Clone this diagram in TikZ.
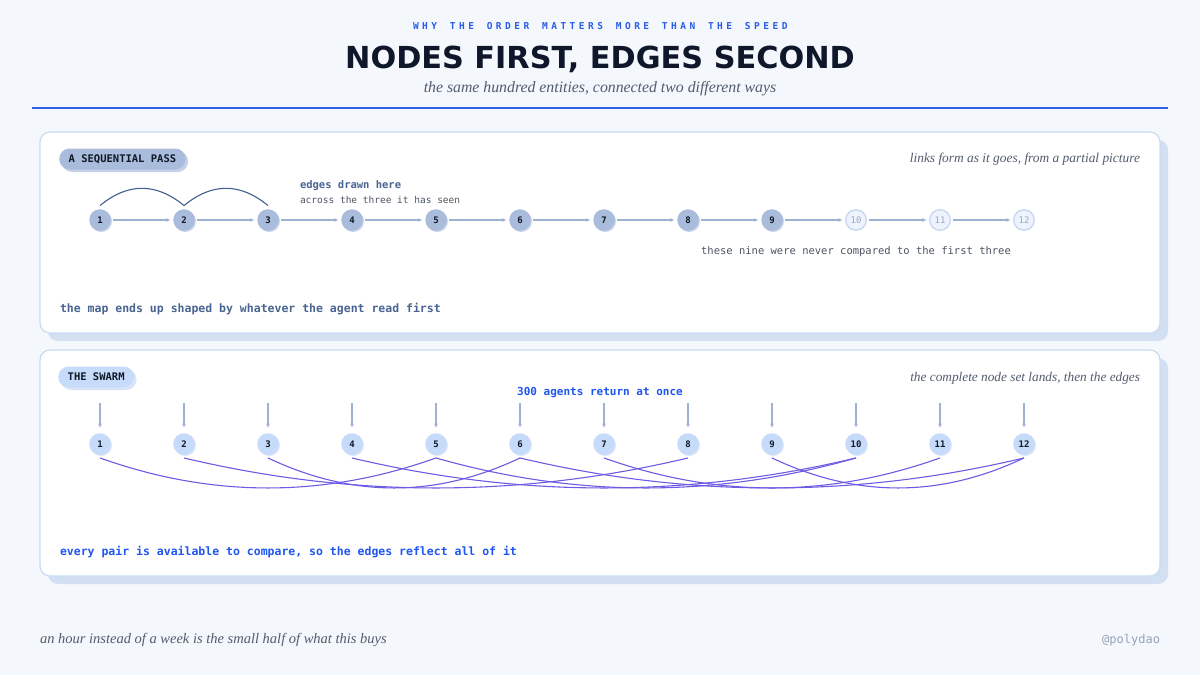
\documentclass[tikz,border=0pt]{standalone}
\usepackage{fontspec}
\setmainfont{Liberation Serif}
\newfontfamily\mono{DejaVu Sans Mono}
\newfontfamily\titlef{DejaVu Sans}
\usetikzlibrary{arrows.meta}
\definecolor{bg}{HTML}{F4F7FC}
\definecolor{navy}{HTML}{0F172A}
\definecolor{kblue}{HTML}{2B5CE6}
\definecolor{subgray}{HTML}{525C6E}
\definecolor{divblue}{HTML}{2F63E3}
\definecolor{panelb}{HTML}{CADBF3}
\definecolor{shadowc}{HTML}{D3E0F2}
\definecolor{pillone}{HTML}{A9BCDB}
\definecolor{pillonesh}{HTML}{C4D1E8}
\definecolor{pilltwo}{HTML}{C7DBFA}
\definecolor{pilltwosh}{HTML}{D9E5F7}
\definecolor{seqfill}{HTML}{A9BCDB}
\definecolor{seqarrowc}{HTML}{9FB2D2}
\definecolor{arcc}{HTML}{44608F}
\definecolor{slate}{HTML}{4A6491}
\definecolor{fadefill}{HTML}{EEF4FD}
\definecolor{fadedraw}{HTML}{C6D7F1}
\definecolor{fadetext}{HTML}{9AAAC2}
\definecolor{swfill}{HTML}{C6DAFA}
\definecolor{swedgec}{HTML}{6C5CE3}
\definecolor{bluetext}{HTML}{1F55F0}
\definecolor{handle}{HTML}{94A3B8}
\definecolor{darktext}{HTML}{111827}
\definecolor{graytext}{HTML}{4B5563}
\def\spaced#1{\spacedaux#1\relax}
\def\spacedaux#1{\ifx#1\relax\else#1\kern3.5pt\expandafter\spacedaux\fi}
\tikzset{
  txt/.style={inner sep=0pt, outer sep=0pt},
  pillbox/.style={rectangle, rounded corners=10.5pt, minimum height=21pt, inner xsep=9.5pt, inner ysep=0pt,
     font=\mono\bfseries\fontsize{10.5}{12}\selectfont, text=darktext, anchor=west},
  seqnode/.style={circle, minimum size=21.5pt, inner sep=0pt, fill=seqfill,
     font=\mono\bfseries\fontsize{9}{10}\selectfont, text=darktext,
     preaction={fill=pillonesh, transform canvas={shift={(1.2pt,-1.2pt)}}}},
  fadenode/.style={circle, minimum size=20.5pt, inner sep=0pt, fill=fadefill, draw=fadedraw, line width=1.3pt,
     font=\mono\fontsize{9}{10}\selectfont, text=fadetext},
  swnode/.style={circle, minimum size=21.5pt, inner sep=0pt, fill=swfill,
     font=\mono\bfseries\fontsize{9}{10}\selectfont, text=darktext,
     preaction={fill=pilltwosh, transform canvas={shift={(1.2pt,-1.2pt)}}}},
  seqarrow/.style={draw=seqarrowc, line width=1.2pt, shorten <=2pt, shorten >=3pt,
     -{Stealth[length=4pt,width=3.6pt]}},
  droparrow/.style={draw=seqarrowc, line width=1.2pt, shorten >=5.5pt,
     -{Stealth[length=4pt,width=3.6pt]}},
  arcline/.style={draw=arcc, line width=1.1pt},
  swedge/.style={draw=swedgec, line width=1.1pt},
  panel/.style={draw=panelb, fill=white, line width=1.2pt, rounded corners=10pt},
  panelshadow/.style={fill=shadowc, rounded corners=10pt},
}
\begin{document}
\begin{tikzpicture}[x=1pt,y=-1pt]
\useasboundingbox (0,0) rectangle (1200,675);
\fill[bg] (0,0) rectangle (1200,675);

% header
\node[txt, anchor=base, text=kblue, font=\mono\bfseries\fontsize{9.5}{11}\selectfont] (kicker) at (602,29)
  {\spaced{WHY~THE~ORDER~MATTERS~MORE~THAN~THE~SPEED}};
\node[txt, anchor=base, text=navy, font=\titlef\bfseries\fontsize{30.3}{36}\selectfont] (title) at (600,68.5)
  {NODES FIRST, EDGES SECOND};
\node[txt, anchor=base, text=subgray, font=\itshape\fontsize{15.8}{19}\selectfont] (subtitle) at (600,92.5)
  {the same hundred entities, connected two different ways};
\draw[divblue, line width=2pt] (32,107.5) -- (1168,107.5);

% panel 1
\fill[panelshadow] (48,140) rectangle (1168,341);
\draw[panel] (40,132) rectangle (1160,333);
\node[pillbox, fill=pillone, preaction={fill=pillonesh, transform canvas={shift={(2.5pt,-2.5pt)}}}] (pill1) at (59,159) {A SEQUENTIAL PASS};
\node[txt, anchor=base east, text=subgray, font=\itshape\fontsize{13.4}{15}\selectfont] (note1) at (1140,162)
  {links form as it goes, from a partial picture};

\foreach \i in {1,...,9}
  \node[seqnode] (q\i) at ({100+84*(\i-1)},220) {\i};
\foreach \i in {10,11,12}
  \node[fadenode] (q\i) at ({100+84*(\i-1)},220) {\i};
\foreach \i [evaluate=\i as \j using int(\i+1)] in {1,...,11}
  \draw[seqarrow] (q\i) -- (q\j);
\draw[arcline] ([yshift=3.5pt]q1.north) .. controls +(28,-23) and +(-28,-23) .. ([yshift=3.5pt]q2.north);
\draw[arcline] ([yshift=3.5pt]q2.north) .. controls +(28,-23) and +(-28,-23) .. ([yshift=3.5pt]q3.north);

\node[txt, anchor=base west, text=slate, font=\mono\bfseries\fontsize{10.5}{12}\selectfont] (edgeshere) at (300,188)
  {edges drawn here};
\node[txt, anchor=base west, text=graytext, font=\mono\fontsize{9.5}{11}\selectfont] (across) at (300,203)
  {across the three it has seen};
\node[txt, anchor=base, text=graytext, font=\mono\fontsize{10.5}{12}\selectfont] (nine) at (856,254)
  {these nine were never compared to the first three};
\node[txt, anchor=base west, text=slate, font=\mono\bfseries\fontsize{11.5}{13}\selectfont] (mapends) at (60,312)
  {the map ends up shaped by whatever the agent read first};

% panel 2
\fill[panelshadow] (48,358) rectangle (1168,584);
\draw[panel] (40,350) rectangle (1160,576);
\node[pillbox, fill=pilltwo, preaction={fill=pilltwosh, transform canvas={shift={(2.5pt,-2.5pt)}}}] (pill2) at (58,377) {THE SWARM};
\node[txt, anchor=base east, text=subgray, font=\itshape\fontsize{13.3}{15}\selectfont] (note2) at (1140,381)
  {the complete node set lands, then the edges};
\node[txt, anchor=base, text=bluetext, font=\mono\bfseries\fontsize{11}{13}\selectfont] (agents) at (600,395)
  {300 agents return at once};

\foreach \i in {1,...,12} {
  \coordinate (a\i) at ({100+84*(\i-1)},403);
  \node[swnode] (s\i) at ({100+84*(\i-1)},444) {\i};
  \draw[droparrow] (a\i) -- (s\i);
}
\foreach \p/\q/\d in {1/5/112, 3/6/84, 9/12/84, 7/11/112, 6/12/168, 2/8/168, 4/10/168, 5/10/140}
  \draw[swedge] ([yshift=-3pt]s\p.south) .. controls +(\d,40) and +(-\d,40) .. ([yshift=-3pt]s\q.south);

\node[txt, anchor=base west, text=bluetext, font=\mono\bfseries\fontsize{11.5}{13}\selectfont] (everypair) at (60,555)
  {every pair is available to compare, so the edges reflect all of it};

% footer
\node[txt, anchor=base west, text=subgray, font=\itshape\fontsize{14.5}{17}\selectfont] (footer) at (40,643)
  {an hour instead of a week is the small half of what this buys};
\node[txt, anchor=base east, text=handle, font=\mono\fontsize{12}{14}\selectfont] (handle) at (1160,643)
  {@polydao};
\end{tikzpicture}
\end{document}
